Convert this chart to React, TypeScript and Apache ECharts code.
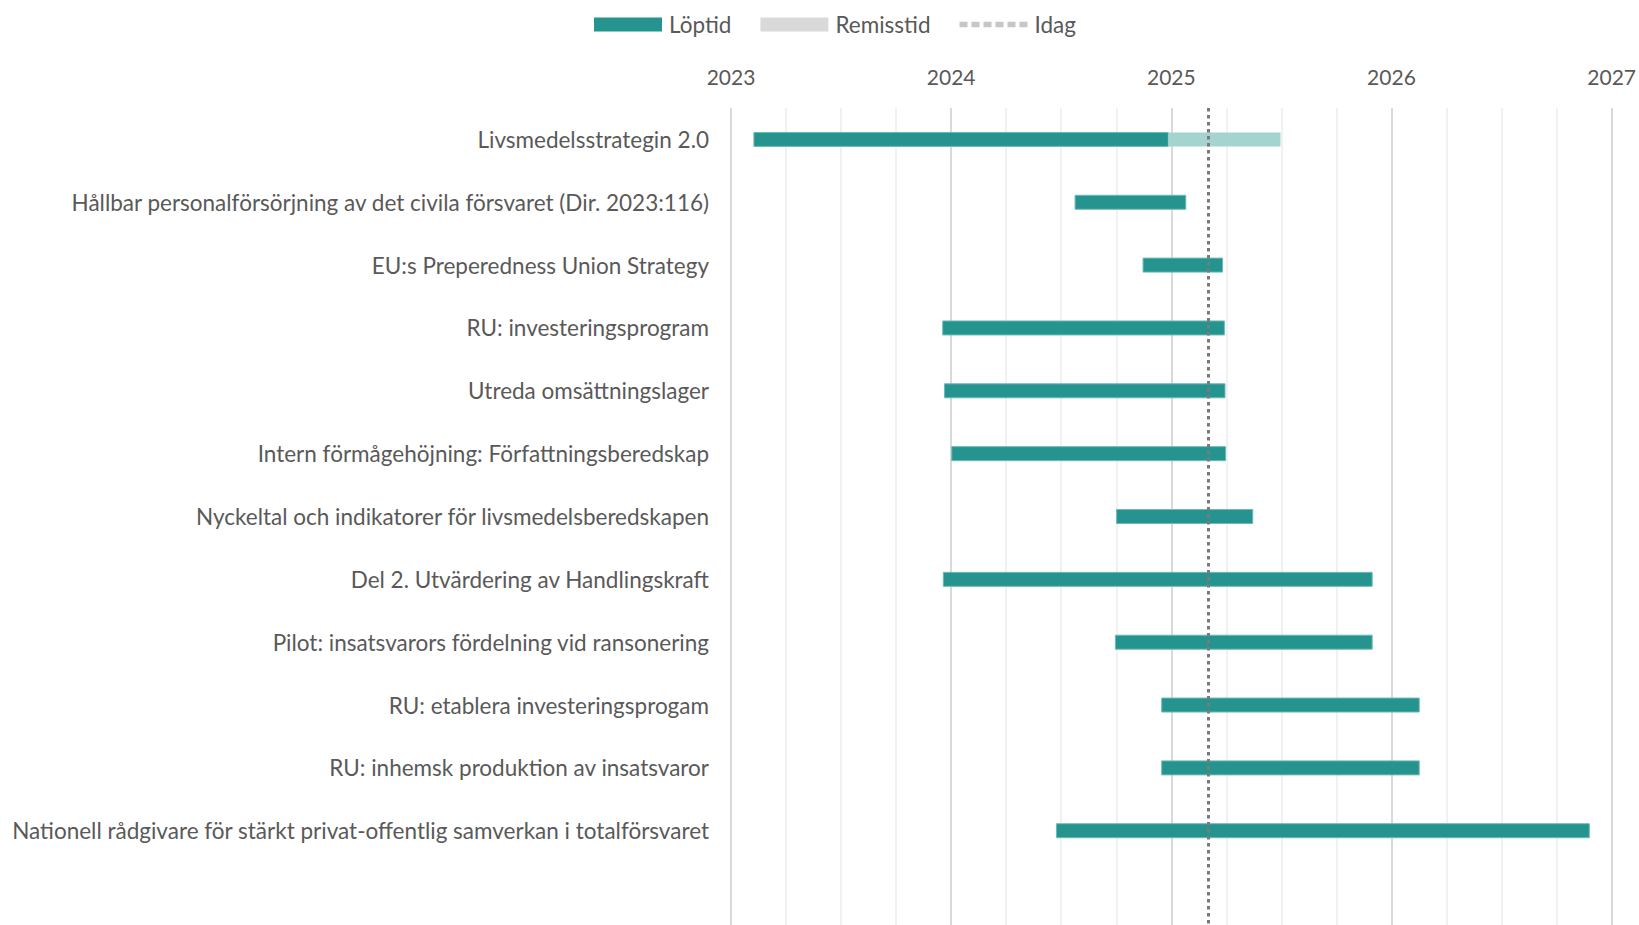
import React, { useEffect, useRef } from "react";
import * as echarts from "echarts";

const categories = [
  "Livsmedelsstrategin 2.0",
  "Hållbar personalförsörjning av det civila försvaret (Dir. 2023:116)",
  "EU:s Preperedness Union Strategy",
  "RU: investeringsprogram",
  "Utreda omsättningslager",
  "Intern förmågehöjning: Författningsberedskap",
  "Nyckeltal och indikatorer för livsmedelsberedskapen",
  "Del 2. Utvärdering av Handlingskraft",
  "Pilot: insatsvarors fördelning vid ransonering",
  "RU: etablera investeringsprogam",
  "RU: inhemsk produktion av insatsvaror",
  "Nationell rådgivare för stärkt privat-offentlig samverkan i totalförsvaret",
  "",
];

const loptidStart = [
  "2023-02-08", "2024-07-25", "2024-11-15", "2023-12-18", "2023-12-21", "2024-01-02",
  "2024-10-02", "2023-12-19", "2024-09-30", "2024-12-16", "2024-12-16", "2024-06-24",
];
const loptidEnd = [
  "2024-12-27", "2025-01-25", "2025-03-27", "2025-03-30", "2025-03-31", "2025-04-01",
  "2025-05-16", "2025-11-30", "2025-11-30", "2026-02-16", "2026-02-16", "2026-11-25",
];
const remissStart = ["2024-12-27"];
const remissEnd = ["2025-07-01"];
const today = "2025-03-04";
const yearTicks = [2023, 2024, 2025, 2026, 2027];

function toYear(d: string): number {
  const [y, m, day] = d.split("-").map(Number);
  const t = Date.UTC(y, m - 1, day);
  const s = Date.UTC(y, 0, 1);
  const e = Date.UTC(y + 1, 0, 1);
  return y + (t - s) / (e - s);
}

const TEAL = "#25948f";
const LIGHT = "#a4d3d0";
const TEXT = "#595959";
const FONT = "Lato";

// dotted legend icon: six small squares, vertically centred in a 68x14 box
const dotIcon =
  "path://M0,0M68,14" +
  [0, 1, 2, 3, 4, 5].map((i) => `M${i * 12},4.25h8v5.5h-8z`).join("");

export default function App() {
  const ref = useRef<HTMLDivElement>(null);
  useEffect(() => {
    document.body.style.margin = "0";
    const chart = echarts.init(ref.current!, null, { renderer: "svg" });
    const barH = 14;
    const renderBar = (params: any, api: any) => {
      const cat = api.value(0);
      const p0 = api.coord([api.value(1), cat]);
      const p1 = api.coord([api.value(2), cat]);
      return {
        type: "rect",
        shape: { x: p0[0], y: p0[1] - barH / 2, width: p1[0] - p0[0], height: barH },
        style: api.style(),
      };
    };
    const lopData = loptidStart.map((s, i) => [i, toYear(s), toYear(loptidEnd[i])]);
    const remData = remissStart.map((s, i) => [i, toYear(s), toYear(remissEnd[i])]);
    chart.setOption({
      animation: false,
      textStyle: { fontFamily: FONT },
      legend: {
        top: 8,
        left: 589,
        itemWidth: 68,
        itemHeight: 14,
        itemGap: 29,
        textStyle: { fontSize: 22.5, color: TEXT, fontFamily: FONT, padding: [0, 0, 0, 2] },
        data: [
          { name: "Löptid", icon: "rect", itemStyle: { color: TEAL, borderWidth: 0 } },
          { name: "Remisstid", icon: "rect", itemStyle: { color: "#d9d9d9", borderWidth: 0 } },
          { name: "Idag", icon: dotIcon, itemStyle: { color: "#c6c6c6", borderWidth: 0 } },
        ],
      },
      grid: { left: 731, right: 22, top: 108, bottom: 0, containLabel: false },
      xAxis: {
        type: "value",
        position: "top",
        min: yearTicks[0],
        max: yearTicks[yearTicks.length - 1],
        interval: 1,
        axisLine: { show: false },
        axisTick: { show: false },
        axisLabel: {
          fontSize: 21,
          color: TEXT,
          fontFamily: FONT,
          margin: 21,
          formatter: (v: number) => String(Math.round(v)),
        },
        splitLine: { show: true, lineStyle: { color: "#d9d9d9", width: 2 } },
        minorTick: { show: false, splitNumber: 4 },
        minorSplitLine: { show: true, lineStyle: { color: "#ededed", width: 1.5 } },
      },
      yAxis: {
        type: "category",
        data: categories,
        inverse: true,
        axisLine: { show: false },
        axisTick: { show: false },
        splitLine: { show: false },
        axisLabel: { fontSize: 22.5, color: TEXT, fontFamily: FONT, margin: 22 },
      },
      series: [
        {
          name: "Löptid",
          type: "custom",
          renderItem: renderBar,
          encode: { x: [1, 2], y: 0 },
          itemStyle: { color: TEAL, borderColor: "#6dbab6", borderWidth: 1 },
          data: lopData,
          z: 3,
        },
        {
          name: "Remisstid",
          type: "custom",
          renderItem: renderBar,
          encode: { x: [1, 2], y: 0 },
          itemStyle: { color: LIGHT },
          data: remData,
          z: 3,
        },
        {
          name: "Idag",
          type: "line",
          data: [],
          symbol: "none",
          itemStyle: { color: "#c6c6c6" },
          lineStyle: { color: "#c6c6c6", width: 6 },
          markLine: {
            silent: true,
            symbol: "none",
            label: { show: false },
            lineStyle: { color: "#7a7a7a", width: 3, type: [3.5, 3.5] },
            data: [{ xAxis: toYear(today) }],
            z: 5,
          },
        },
      ],
    });
    return () => chart.dispose();
  }, []);
  return (
    <div
      ref={ref}
      style={{ position: "fixed", left: 0, top: 0, width: 1639, height: 925, background: "#fff" }}
    />
  );
}
